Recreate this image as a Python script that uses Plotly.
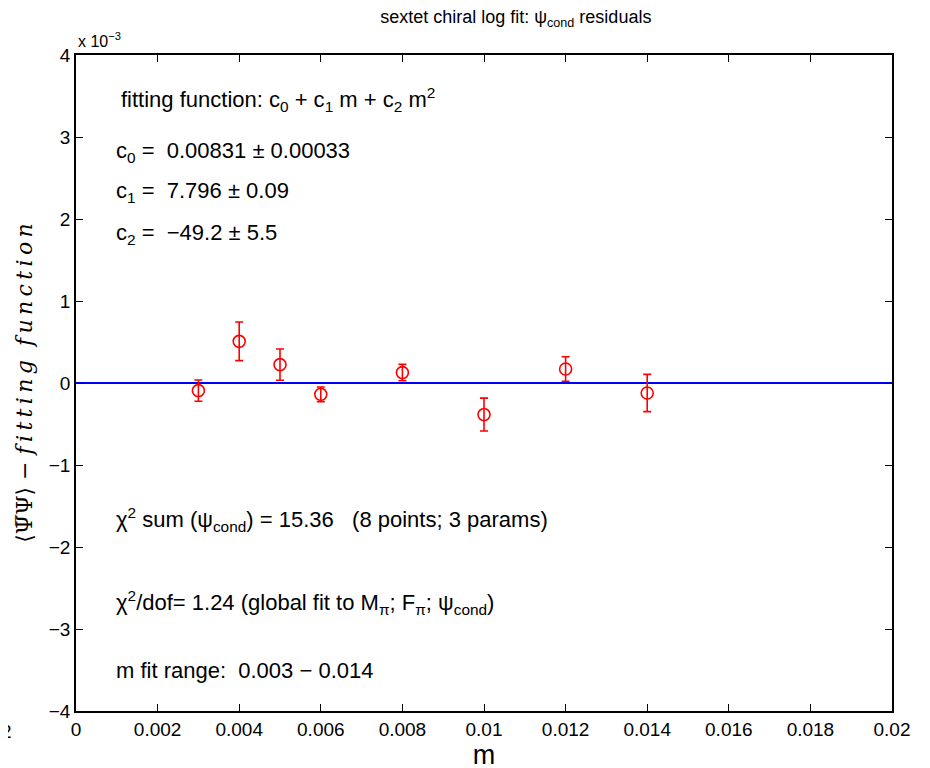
import plotly.graph_objects as go

# data (residuals in units of 1e-3)
m_vals = [0.003, 0.004, 0.005, 0.006, 0.008, 0.010, 0.012, 0.014]
resid = [-0.093, 0.508, 0.224, -0.138, 0.127, -0.385, 0.171, -0.122]
resid_err = [0.13, 0.235, 0.19, 0.09, 0.10, 0.20, 0.15, 0.227]
zero_x = [0.0, 0.02]
zero_y = [0.0, 0.0]
x_ticks = [0, 0.002, 0.004, 0.006, 0.008, 0.01, 0.012, 0.014, 0.016, 0.018, 0.02]
x_labels = ["0", "0.002", "0.004", "0.006", "0.008", "0.01", "0.012", "0.014", "0.016", "0.018", "0.02"]
y_ticks = [-4, -3, -2, -1, 0, 1, 2, 3, 4]
y_labels = ["\u22124", "\u22123", "\u22122", "\u22121", "0", "1", "2", "3", "4"]

FONT = "Liberation Sans, Arial, Helvetica, sans-serif"

fig = go.Figure()
fig.add_trace(go.Scatter(x=zero_x, y=zero_y, mode="lines",
                         line=dict(color="#0000ff", width=2.2), showlegend=False,
                         hoverinfo="skip"))
fig.add_trace(go.Scatter(x=m_vals, y=resid, mode="markers",
                         marker=dict(symbol="circle-open", size=12, color="#ff0000",
                                     line=dict(width=1.6, color="#ff0000")),
                         error_y=dict(type="data", array=resid_err, visible=True,
                                      color="#ff0000", thickness=1.6, width=4),
                         showlegend=False))

axis_common = dict(showgrid=False, zeroline=False, showline=True, linecolor="black",
                   linewidth=1.5, mirror="allticks", ticks="inside", ticklen=7,
                   tickcolor="black", tickwidth=1,
                   tickfont=dict(family=FONT, size=19, color="black"))

ts = "\u2009"
ylab = ("\u27e8\u03a8\u0305\u03a8\u27e9 \u2212 <i>" + ts.join("fitting") + "  " +
        ts.join("function") + "</i>")

fig.update_xaxes(range=[0, 0.02], tickvals=x_ticks, ticktext=x_labels,
                 title=dict(text="m", font=dict(family=FONT, size=27, color="black"),
                            standoff=0),
                 **axis_common)
fig.update_yaxes(range=[-4, 4], tickvals=y_ticks, ticktext=y_labels,
                 title=dict(text=ylab,
                            font=dict(family="DejaVu Serif, serif", size=22, color="black"),
                            standoff=10),
                 **axis_common)

ann_font = dict(family=FONT, size=22, color="black")
texts = [
    (0.00106, 3.46, "fitting function: c<sub>0</sub> + c<sub>1</sub> m + c<sub>2</sub> m<sup>2</sup>"),
    (0.00093, 2.82, "c<sub>0</sub> =  0.00831 \u00b1 0.00033"),
    (0.00093, 2.33, "c<sub>1</sub> =  7.796 \u00b1 0.09"),
    (0.00093, 1.82, "c<sub>2</sub> =  \u221249.2 \u00b1 5.5"),
    (0.00093, -1.67, "\u03c7<sup>2</sup> sum (\u03c8<sub>cond</sub>) = 15.36   (8 points; 3 params)"),
    (0.00093, -2.68, "\u03c7<sup>2</sup>/dof= 1.24 (global fit to M<sub>\u03c0</sub>; F<sub>\u03c0</sub>; \u03c8<sub>cond</sub>)"),
    (0.00093, -3.51, "m fit range:  0.003 \u2212 0.014"),
]
annotations = [dict(x=x, y=y, xref="x", yref="y", text=t, showarrow=False,
                    xanchor="left", yanchor="middle", font=ann_font) for x, y, t in texts]
annotations.append(dict(x=0.0, y=1.0, xref="paper", yref="paper",
                        text="x 10<sup>\u22123</sup>", showarrow=False,
                        xanchor="left", yanchor="bottom", yshift=3,
                        font=dict(family=FONT, size=16, color="black")))
annotations.append(dict(x=0, y=-0.0, xref="paper", yref="paper", text="2",
                        showarrow=False, xanchor="right", yanchor="top", xshift=-62, yshift=-8,
                        font=dict(family=FONT, size=19, color="black")))

fig.update_layout(
    width=930, height=768,
    margin=dict(l=68, r=46, t=47, b=65),
    paper_bgcolor="white", plot_bgcolor="white",
    title=dict(text="sextet chiral log fit: \u03c8<sub>cond</sub> residuals",
               x=0.546, xanchor="center", y=0.997, yanchor="top",
               font=dict(family=FONT, size=18, color="black")),
    annotations=annotations,
)

fig.write_html("out.html")
